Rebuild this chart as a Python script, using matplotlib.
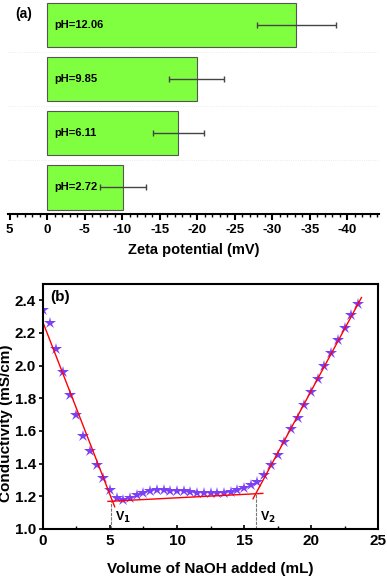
import matplotlib.pyplot as plt
from matplotlib.ticker import MultipleLocator

plt.rcParams['font.family'] = ['Liberation Sans', 'DejaVu Sans']
plt.rcParams['font.weight'] = 'bold'

# (a) zeta potential
ph_labels = ["pH=2.72", "pH=6.11", "pH=9.85", "pH=12.06"]
zeta = [-10.1, -17.5, -19.9, -33.2]
zeta_err = [3.1, 3.45, 3.7, 5.3]

# (b) conductometric titration
volume = [0, 0.5, 1, 1.5, 2, 2.5, 3, 3.5, 4, 4.5, 5, 5.5, 6, 6.5, 7, 7.5,
          8, 8.5, 9, 9.5, 10, 10.5, 11, 11.5, 12, 12.5, 13, 13.5, 14, 14.5,
          15, 15.5, 16, 16.5, 17, 17.5, 18, 18.5, 19, 19.5, 20, 20.5, 21,
          21.5, 22, 22.5, 23, 23.5]
conductivity = [2.34, 2.26, 2.10, 1.96, 1.82, 1.70, 1.57, 1.48, 1.39, 1.31,
                1.24, 1.19, 1.18, 1.19, 1.21, 1.22, 1.235, 1.24, 1.24, 1.235,
                1.23, 1.23, 1.225, 1.22, 1.22, 1.22, 1.22, 1.22, 1.225, 1.24,
                1.25, 1.27, 1.29, 1.33, 1.39, 1.45, 1.53, 1.61, 1.68, 1.76,
                1.84, 1.92, 2.00, 2.075, 2.155, 2.23, 2.31, 2.375]
fit1_x = [0, 5.35]
fit1_y = [2.265, 1.136]
fit2_x = [4.85, 16.4]
fit2_y = [1.169, 1.218]
fit3_x = [15.67, 23.76]
fit3_y = [1.185, 2.417]
v1, v1_top = 5.1, 1.17
v2, v2_top = 15.87, 1.22

fig = plt.figure(figsize=(3.87, 5.76), dpi=100)

ax1 = fig.add_axes([0.0207, 0.6285, 0.9586, 0.3715])
pos = range(len(zeta))
ax1.barh(pos, zeta, height=0.815, color='#80FF40', edgecolor='#555555',
         linewidth=0.8)
ax1.errorbar(zeta, pos, xerr=zeta_err, fmt='none', ecolor='#444444',
             elinewidth=1, capsize=2.5)
for i, lab in enumerate(ph_labels):
    ax1.text(-1.0, i, lab, ha='left', va='center', fontsize=8,
             fontweight='bold')
for y in [0.5, 1.5, 2.5]:
    ax1.axhline(y, color='#e6e6e6', linewidth=0.6, linestyle=':')
ax1.set_xlim(5.2, -44.2)
ax1.set_ylim(-0.49, 3.46)
for s in ['top', 'right', 'left']:
    ax1.spines[s].set_visible(False)
ax1.spines['bottom'].set_linewidth(1.5)
ax1.set_yticks([])
ax1.xaxis.set_minor_locator(MultipleLocator(1))
ax1.tick_params(axis='x', which='major', length=4, width=1.5, labelsize=9.5)
ax1.tick_params(axis='x', which='minor', length=2, width=1)
ax1.set_xticks(range(5, -45, -5))
ax1.set_xticklabels([str(v) for v in range(5, -45, -5)])
ax1.set_xlabel("Zeta potential (mV)", fontsize=10.5, fontweight='bold',
               labelpad=5)
fig.text(0.04, 0.988, "(a)", fontsize=10, fontweight='bold', va='top')

ax2 = fig.add_axes([0.111, 0.0816, 0.866, 0.4254])
ax2.plot(volume, conductivity, linestyle='none', marker='*', markersize=9,
         color='#7B3FF5', markeredgewidth=0)
ax2.plot(fit1_x, fit1_y, color='red', linewidth=1)
ax2.plot(fit2_x, fit2_y, color='red', linewidth=1)
ax2.plot(fit3_x, fit3_y, color='red', linewidth=1)
ax2.plot([v1, v1], [1.0, v1_top], color='#777777', linewidth=0.8,
         linestyle=(0, (3, 1)))
ax2.plot([v2, v2], [1.0, v2_top], color='#777777', linewidth=0.8,
         linestyle=(0, (3, 1)))
ax2.text(v1 + 0.25, 1.07, r"V$_\mathbf{1}$", fontsize=9, fontweight='bold',
         va='center')
ax2.text(v2 + 0.3, 1.07, r"V$_\mathbf{2}$", fontsize=9, fontweight='bold',
         va='center')
ax2.text(0.55, 2.42, "(b)", fontsize=11, fontweight='bold', va='center')
ax2.set_xlim(0, 25)
ax2.set_ylim(1.0, 2.5)
ax2.set_yticks([1.0, 1.2, 1.4, 1.6, 1.8, 2.0, 2.2, 2.4])
ax2.set_xticks([0, 5, 10, 15, 20, 25])
ax2.xaxis.set_minor_locator(MultipleLocator(2.5))
ax2.tick_params(axis='x', which='major', direction='in', length=3,
                width=1.2, labelsize=11)
ax2.tick_params(axis='x', which='minor', direction='in', length=2, width=1)
ax2.tick_params(axis='y', which='major', direction='out', length=3,
                width=1.2, labelsize=11, pad=2)
for s in ax2.spines.values():
    s.set_linewidth(1.5)
ax2.set_xlabel("Volume of NaOH added (mL)", fontsize=11, fontweight='bold',
               labelpad=10)
ax2.set_ylabel("Conductivity (mS/cm)", fontsize=11, fontweight='bold')
ax2.yaxis.set_label_coords(-0.088, 0.43)

fig.savefig("out.png", dpi=100)
